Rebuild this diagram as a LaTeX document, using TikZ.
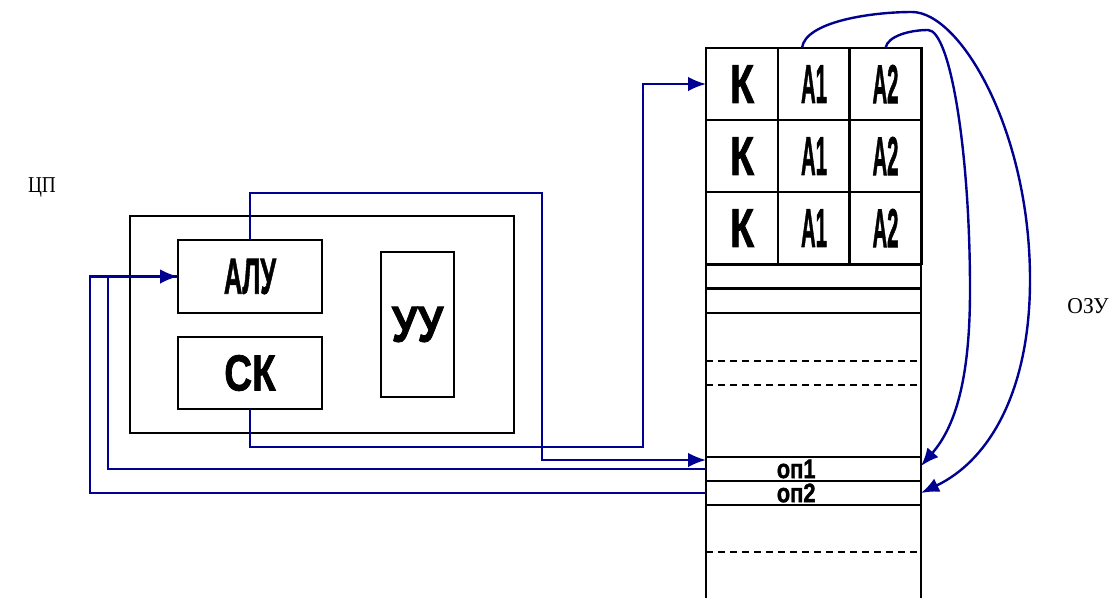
\documentclass[tikz,border=0pt]{standalone}
\usepackage{fontspec}
\setmainfont{Liberation Serif}
\setsansfont{Liberation Sans}
\newfontfamily\heavyfont[FakeBold=1.6]{Liberation Sans Bold}
\usepackage{graphicx}
\usetikzlibrary{calc,positioning,arrows.meta}

\definecolor{wire blue}{RGB}{0,0,145}
\newcommand{\narrow}[2]{\scalebox{#1}[1]{#2}}

\begin{document}
\begin{tikzpicture}[
  x=0.75pt, y=-0.75pt,
  line width=2.1pt,
  memory cell/.style={
    rectangle,
    draw=black,
    minimum height=54pt, minimum width=54pt,
    inner sep=0pt, outer sep=0pt,
    font=\heavyfont\fontsize{41}{41}\selectfont
  },
  memory row/.style={
    rectangle,
    draw=black,
    minimum height=18pt, minimum width=161.25pt,
    inner sep=0pt, outer sep=0pt
  },
  operand/.style={
    font=\heavyfont\fontsize{20}{20}\selectfont,
    inner sep=0pt, xshift=-13pt
  },
  cpu block/.style={
    rectangle,
    draw=black,
    inner sep=0pt, outer sep=0pt,
    font=\heavyfont\fontsize{38}{38}\selectfont
  },
  wire/.style={
    draw=wire blue,
    line width=1.8pt
  },
  wire arrow/.style={
    wire,
    -{Latex[length=13.5pt,width=11pt]}
  },
  dash line/.style={
    dash pattern=on 5.5pt off 3.5pt,
    line width=1.6pt
  },
  caption/.style={
    font=\fontsize{17}{17}\selectfont
  }
  ]
\useasboundingbox (0,0) rectangle (1119,597);
% Memory (OZU)
\foreach \r/\y in {1/84,2/156,3/228} {
  \node [memory cell] (k\r)  at (742,\y)   {\narrow{0.72}{К}};
  \node [memory cell] (aa\r) at (814,\y)   {\narrow{0.37}{А1}};
  \node [memory cell] (ab\r) at (885.5,\y) {\narrow{0.37}{А2}};
}
\node [memory row] (row4) at (813.5,276.5) {};
\node [memory row] (row5) at (813.5,301) {};
\node [memory row] (op1) at (813.5,469) {};
\node [operand] at (op1) {\narrow{0.82}{оп1}};
\node [memory row] (op2) at (813.5,493) {};
\node [operand] at (op2) {\narrow{0.82}{оп2}};
\draw (row5.south west) -- (op1.north west)
      (row5.south east) -- (op1.north east)
      (op2.south west) -- ++(0,95)
      (op2.south east) -- ++(0,95);
\foreach \d in {48,72}
  \draw[dash line] ($(row5.south west)+(0,\d)$) -- ($(row5.south east)+(0,\d)$);
\draw[dash line] ($(op2.south west)+(0,47)$) -- ($(op2.south east)+(0,47)$);
\node [caption] (ram label) at (1088,306) {\narrow{0.95}{ОЗУ}};
% CPU (TsP)
\node [cpu block, minimum width=288pt, minimum height=162.75pt] (cpu) at (322,324.5) {};
\node [cpu block, minimum width=108pt, minimum height=54.75pt] (alu) at (250,276.5) {\raisebox{-3pt}{\narrow{0.5}{АЛУ}}};
\node [cpu block, minimum width=108pt, minimum height=54pt] (sk) at (250,373) {\narrow{0.76}{СК}};
\node [cpu block, minimum width=54.75pt, minimum height=108.75pt] (uu) at (417.5,324.5) {\narrow{0.82}{УУ}};
\node [caption] (cpu label) at (42,187) {\narrow{0.85}{ЦП}};
% Wires
\draw[wire arrow] (sk.south) -- ++(0,38) -| ($(k1.west)+(-63,0)$) -- (k1.west);
\draw[wire arrow] (alu.north) -- ++(0,-47) -| ($(op1.west)+(-164,-9)$) -- ($(op1.west)+(0,-9)$);
\draw[wire] (op2.west) -| ($(alu.west)+(-88,0)$) -- (alu.west);
\draw[wire arrow] (op1.west) -| ($(alu.west)+(-70,0)$) -- (alu.west);
% Address links
\draw[wire arrow] ($(aa1.north)+(-12,0)$) .. controls +(3,-26) and +(-42,0) .. (912,12)
  .. controls +(48,0) and +(0,-150) .. (1030,280)
  .. controls +(0,110) and +(69,-33) .. (op2.east);
\draw[wire arrow] (ab1.north) .. controls +(2,-12) and +(-18,0) .. (928,30)
  .. controls +(22,0) and +(0,-140) .. (970,290)
  .. controls +(0,90) and +(34,-39) .. ($(op1.east)+(0,-3)$);
\end{tikzpicture}
\end{document}
